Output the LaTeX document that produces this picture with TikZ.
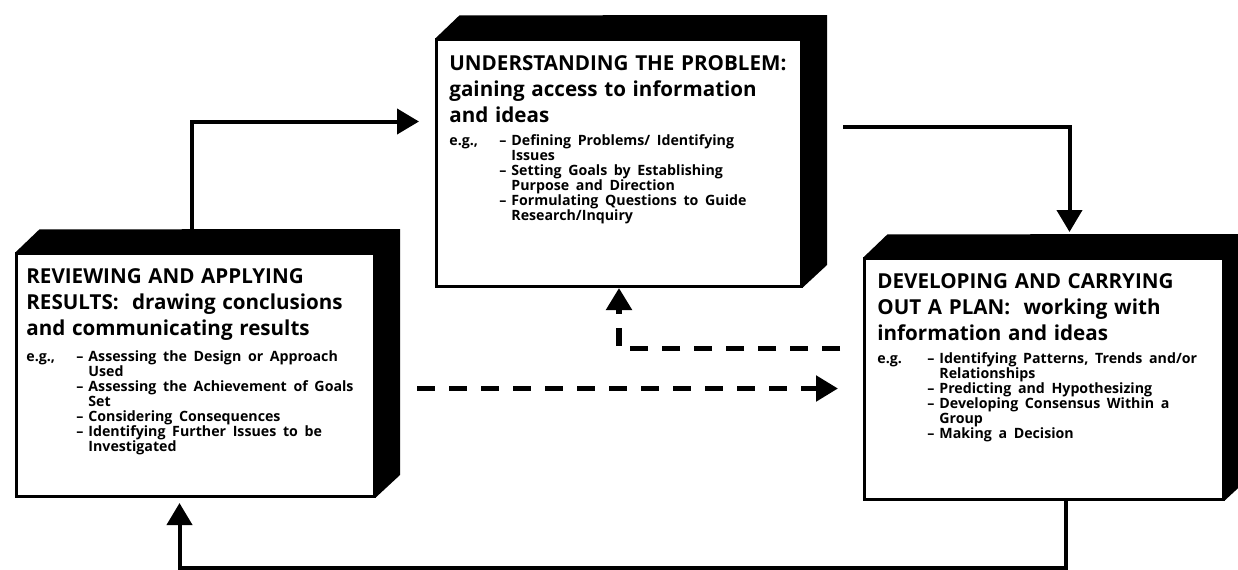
\documentclass[tikz,border=0pt]{standalone}
\usepackage{fontspec}
\setmainfont[WordSpace=0.8]{Open Sans}
\usepackage{tikz}
\usetikzlibrary{positioning,arrows.meta,backgrounds}
\tikzset{
  node-front/.style={draw=black,line width=1.5pt,fill=white,anchor=north west,inner sep=0pt},
  node-text/.style={inner sep=0pt,text width=178pt,align=left,font=\bfseries},
  arrow/.style={-{Triangle[length=11pt,width=12.5pt]},line width=2pt},
  arrow-dash/.style={-{Triangle[length=11pt,width=12.5pt]},line width=2.6pt,dash pattern=on 9pt off 7pt},
}
% black side and top faces behind a box
\newcommand{\drawdepth}[1]{%
  \begin{scope}[on background layer]
    \fill ([shift={(0.2pt,-0.2pt)}]#1.north west) -- ++(12pt,11.5pt)
      -- ([shift={(12pt,11.5pt)}]#1.north east)
      -- ([shift={(12pt,11.5pt)}]#1.south east)
      -- ([shift={(-0.2pt,0.2pt)}]#1.south east) -- cycle;
  \end{scope}}
\newcommand{\titlesize}{\fontsize{10.3}{13}\selectfont}
\newcommand{\itemsize}{\fontsize{7.1}{7.5}\selectfont}
\newcommand{\firstitem}[2]{\makebox[25pt][l]{#1}\makebox[6pt][l]{--}#2}
\newcommand{\nextitem}[1]{\hspace*{25pt}\makebox[6pt][l]{--}#1}
\newcommand{\contline}[1]{\hspace*{31pt}#1}

\begin{document}
\begin{tikzpicture}[x=0.5pt,y=-0.5pt]
  \useasboundingbox (0,0) rectangle (1238,569);
  \node[node-front,minimum width=182.5pt,minimum height=123.5pt] (top)    at (435,38)  {};
  \node[node-front,minimum width=179pt,minimum height=121.5pt]   (review) at (15,252)  {};
  \node[node-front,minimum width=179.5pt,minimum height=120.5pt] (plan)   at (863,257) {};
  \drawdepth{top}
  \drawdepth{review}
  \drawdepth{plan}
  \node[node-text,below right=8.5pt and 7pt of top.north west] (top-txt) {%
    {\titlesize UNDERSTANDING THE PROBLEM:\\ gaining access to information\\ and ideas\par}
    \vspace{4pt}
    {\itemsize \firstitem{e.g.,}{Defining Problems/ Identifying}\\
      \contline{Issues}\\
      \nextitem{Setting Goals by Establishing}\\
      \contline{Purpose and Direction}\\
      \nextitem{Formulating Questions to Guide}\\
      \contline{Research/Inquiry}\par}};
  \node[node-text,below right=8pt and 5.5pt of review.north west] (review-txt) {%
    {\titlesize REVIEWING AND APPLYING\\ RESULTS:\ \ drawing conclusions\\ and communicating results\par}
    \vspace{4pt}
    {\itemsize \firstitem{e.g.,}{Assessing the Design or Approach}\\
      \contline{Used}\\
      \nextitem{Assessing the Achievement of Goals}\\
      \contline{Set}\\
      \nextitem{Considering Consequences}\\
      \nextitem{Identifying Further Issues to be}\\
      \contline{Investigated}\par}};
  \node[node-text,below right=8pt and 7pt of plan.north west] (plan-txt) {%
    {\titlesize DEVELOPING AND CARRYING\\ OUT A PLAN:\ \ working with\\ information and ideas\par}
    \vspace{4pt}
    {\itemsize \firstitem{e.g.}{Identifying Patterns, Trends and/or}\\
      \contline{Relationships}\\
      \nextitem{Predicting and Hypothesizing}\\
      \nextitem{Developing Consensus Within a}\\
      \contline{Group}\\
      \nextitem{Making a Decision}\par}};
  \draw[arrow] ([xshift=-2pt]review.north) |- ([shift={(-8pt,20.75pt)}]top.west);
  \draw[arrow] ([shift={(20pt,18.25pt)}]top.east) -| ([shift={(12.75pt,12.5pt)}]plan.north);
  \draw[arrow] ([xshift=10.75pt]plan.south) -- ++(0,-33.5pt) -| ([shift={(-8pt,-2.5pt)}]review.south);
  \coordinate (dash-start) at ([shift={(20.5pt,-6.75pt)}]review.east);
  \draw[arrow-dash,shorten >=12.5pt] (dash-start) -- (dash-start -| plan.west);
  \draw[arrow-dash] ([shift={(-11.5pt,15.25pt)}]plan.west) -| (top.south);
\end{tikzpicture}
\end{document}
